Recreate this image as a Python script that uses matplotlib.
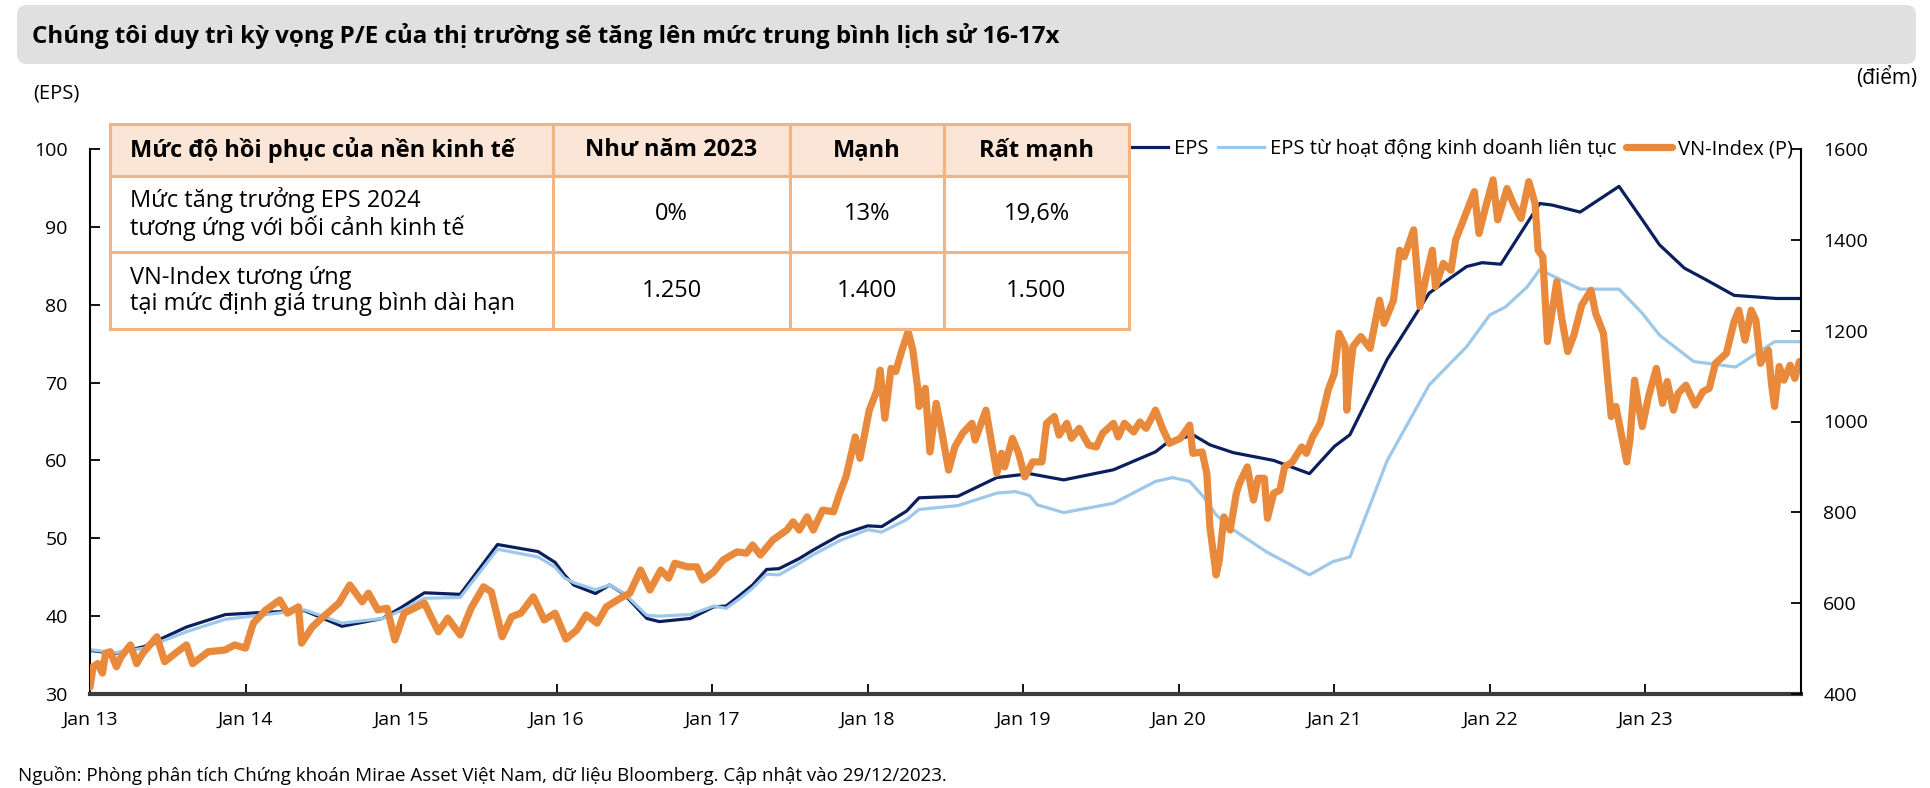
import matplotlib.pyplot as plt
from matplotlib.patches import FancyBboxPatch

plt.rcParams['font.family'] = ['Open Sans', 'Noto Sans', 'DejaVu Sans']

NAVY = '#0B1F5E'
LIGHT_BLUE = '#9DC8EA'
ORANGE = '#E8893C'
TABLE_EDGE = '#F2B482'
HEADER_FILL = '#FBE5D6'

title = 'Chúng tôi duy trì kỳ vọng P/E của thị trường sẽ tăng lên mức trung bình lịch sử 16-17x'
source = ('Nguồn: Phòng phân tích Chứng khoán Mirae Asset Việt Nam, dữ liệu Bloomberg. '
          'Cập nhật vào 29/12/2023.')

years = list(range(2013, 2024))
year_labels = ['Jan %02d' % (y % 100) for y in years]

# (decimal year, value)
eps_pts = [
    (2013.00, 35.6), (2013.16, 35.2), (2013.35, 36.1), (2013.62, 38.6), (2013.87, 40.2),
    (2014.13, 40.5), (2014.38, 40.7), (2014.62, 38.7), (2014.88, 39.7), (2015.00, 41.1),
    (2015.15, 43.0), (2015.38, 42.8), (2015.62, 49.2), (2015.88, 48.3), (2015.99, 46.9),
    (2016.05, 45.3), (2016.11, 44.0), (2016.25, 42.9), (2016.34, 44.0), (2016.43, 42.9),
    (2016.58, 39.7), (2016.66, 39.3), (2016.86, 39.7), (2017.01, 41.2), (2017.09, 41.3),
    (2017.18, 42.7), (2017.26, 44.0), (2017.35, 46.0), (2017.43, 46.1), (2017.56, 47.4),
    (2017.65, 48.5), (2017.82, 50.4), (2018.00, 51.6), (2018.09, 51.5), (2018.25, 53.5),
    (2018.33, 55.2), (2018.58, 55.4), (2018.83, 57.8), (2019.04, 58.3), (2019.26, 57.5),
    (2019.58, 58.8), (2019.85, 61.1), (2019.92, 62.2), (2020.09, 63.3), (2020.20, 62.0),
    (2020.35, 61.0), (2020.61, 60.0), (2020.84, 58.3), (2021.00, 61.8), (2021.10, 63.3),
    (2021.34, 73.0), (2021.61, 81.5), (2021.85, 84.9), (2021.95, 85.4), (2022.07, 85.2),
    (2022.32, 93.0), (2022.40, 92.8), (2022.58, 91.9), (2022.83, 95.2), (2022.98, 90.9),
    (2023.09, 87.7), (2023.25, 84.7), (2023.39, 83.2), (2023.57, 81.2), (2023.71, 81.0),
    (2023.84, 80.8), (2023.99, 80.8),
]

eps_cont_pts = [
    (2013.00, 35.7), (2013.16, 35.3), (2013.35, 35.9), (2013.62, 38.0), (2013.87, 39.6),
    (2014.13, 40.2), (2014.38, 40.8), (2014.62, 39.1), (2014.88, 39.7), (2015.00, 40.7),
    (2015.15, 42.3), (2015.38, 42.4), (2015.62, 48.6), (2015.88, 47.6), (2015.99, 46.3),
    (2016.05, 44.9), (2016.11, 44.3), (2016.25, 43.4), (2016.34, 44.0), (2016.43, 43.0),
    (2016.58, 40.1), (2016.66, 40.0), (2016.86, 40.2), (2017.01, 41.3), (2017.09, 41.0),
    (2017.18, 42.3), (2017.26, 43.6), (2017.35, 45.4), (2017.43, 45.3), (2017.56, 46.8),
    (2017.65, 47.9), (2017.82, 49.7), (2018.00, 51.1), (2018.09, 50.8), (2018.25, 52.4),
    (2018.33, 53.7), (2018.58, 54.2), (2018.83, 55.8), (2018.95, 56.0), (2019.04, 55.5),
    (2019.09, 54.3), (2019.26, 53.3), (2019.58, 54.5), (2019.85, 57.3), (2019.96, 57.8),
    (2020.07, 57.3), (2020.16, 55.3), (2020.24, 53.0), (2020.35, 51.1), (2020.56, 48.3),
    (2020.84, 45.3), (2020.99, 47.0), (2021.10, 47.6), (2021.34, 60.0), (2021.61, 69.7),
    (2021.85, 74.6), (2022.00, 78.7), (2022.10, 79.7), (2022.24, 82.3), (2022.32, 84.5),
    (2022.58, 82.0), (2022.83, 82.0), (2022.98, 78.9), (2023.09, 76.1), (2023.31, 72.7),
    (2023.58, 72.0), (2023.83, 75.25), (2023.99, 75.25),
]

vni_pts = [
    (2013.00, 415), (2013.02, 460), (2013.05, 467), (2013.08, 446), (2013.10, 490),
    (2013.13, 493), (2013.17, 460), (2013.20, 482), (2013.26, 508), (2013.30, 467),
    (2013.34, 490), (2013.43, 526), (2013.48, 471), (2013.55, 490), (2013.62, 508),
    (2013.66, 467), (2013.76, 493), (2013.87, 497), (2013.93, 508), (2014.00, 501),
    (2014.05, 556), (2014.13, 585), (2014.22, 607), (2014.27, 578), (2014.34, 592),
    (2014.36, 512), (2014.43, 548), (2014.49, 567), (2014.60, 600), (2014.67, 640),
    (2014.75, 603), (2014.79, 622), (2014.85, 585), (2014.91, 589), (2014.96, 519),
    (2015.02, 578), (2015.15, 600), (2015.24, 537), (2015.30, 567), (2015.38, 530),
    (2015.45, 589), (2015.53, 636), (2015.58, 625), (2015.65, 526), (2015.71, 570),
    (2015.77, 578), (2015.85, 614), (2015.92, 563), (2015.99, 578), (2016.06, 521),
    (2016.13, 541), (2016.19, 574), (2016.26, 556), (2016.32, 592), (2016.41, 611),
    (2016.47, 622), (2016.54, 673), (2016.60, 629), (2016.67, 673), (2016.72, 655),
    (2016.76, 688), (2016.84, 680), (2016.90, 680), (2016.94, 651), (2017.01, 669),
    (2017.07, 695), (2017.16, 713), (2017.22, 710), (2017.26, 728), (2017.31, 706),
    (2017.39, 739), (2017.48, 761), (2017.52, 779), (2017.56, 761), (2017.61, 790),
    (2017.65, 761), (2017.71, 805), (2017.78, 801), (2017.82, 842), (2017.86, 878),
    (2017.90, 937), (2017.92, 966), (2017.95, 919), (2018.01, 1025), (2018.06, 1069),
    (2018.08, 1113), (2018.11, 1007), (2018.15, 1117), (2018.18, 1110), (2018.22, 1157),
    (2018.26, 1198), (2018.29, 1157), (2018.32, 1077), (2018.33, 1033), (2018.37, 1073),
    (2018.40, 933), (2018.44, 1040), (2018.47, 989), (2018.52, 893), (2018.56, 944),
    (2018.61, 974), (2018.67, 996), (2018.69, 959), (2018.76, 1025), (2018.83, 886),
    (2018.86, 930), (2018.88, 900), (2018.93, 963), (2018.97, 930), (2019.01, 878),
    (2019.06, 911), (2019.12, 911), (2019.15, 996), (2019.20, 1011), (2019.23, 970),
    (2019.28, 996), (2019.31, 963), (2019.36, 985), (2019.42, 948), (2019.47, 944),
    (2019.51, 974), (2019.58, 996), (2019.61, 966), (2019.65, 996), (2019.71, 977),
    (2019.75, 999), (2019.79, 985), (2019.85, 1025), (2019.90, 981), (2019.94, 952),
    (2020.01, 963), (2020.07, 992), (2020.09, 930), (2020.15, 933), (2020.18, 886),
    (2020.20, 768), (2020.24, 662), (2020.26, 695), (2020.29, 790), (2020.33, 761),
    (2020.37, 842), (2020.39, 864), (2020.44, 900), (2020.48, 827), (2020.51, 875),
    (2020.55, 875), (2020.57, 787), (2020.61, 842), (2020.65, 849), (2020.68, 900),
    (2020.73, 911), (2020.79, 944), (2020.82, 930), (2020.86, 966), (2020.91, 996),
    (2020.96, 1069), (2021.00, 1106), (2021.03, 1194), (2021.07, 1165), (2021.08, 1025),
    (2021.10, 1106), (2021.12, 1165), (2021.17, 1187), (2021.23, 1161), (2021.29, 1267),
    (2021.32, 1216), (2021.38, 1267), (2021.42, 1377), (2021.45, 1363), (2021.51, 1422),
    (2021.55, 1253), (2021.59, 1319), (2021.63, 1377), (2021.65, 1297), (2021.70, 1348),
    (2021.75, 1333), (2021.78, 1400), (2021.83, 1444), (2021.90, 1506), (2021.93, 1414),
    (2021.97, 1469), (2022.02, 1532), (2022.05, 1444), (2022.11, 1513), (2022.15, 1480),
    (2022.20, 1447), (2022.25, 1528), (2022.29, 1480), (2022.31, 1377), (2022.34, 1363),
    (2022.37, 1176), (2022.43, 1308), (2022.46, 1231), (2022.50, 1154), (2022.54, 1190),
    (2022.59, 1256), (2022.65, 1289), (2022.68, 1238), (2022.73, 1194), (2022.76, 1084),
    (2022.78, 1011), (2022.81, 1033), (2022.84, 981), (2022.88, 911), (2022.90, 959),
    (2022.93, 1091), (2022.96, 1025), (2022.98, 989), (2023.02, 1055), (2023.07, 1117),
    (2023.11, 1040), (2023.14, 1088), (2023.18, 1025), (2023.21, 1062), (2023.26, 1080),
    (2023.32, 1036), (2023.37, 1066), (2023.41, 1073), (2023.45, 1128), (2023.52, 1150),
    (2023.57, 1220), (2023.60, 1245), (2023.64, 1179), (2023.68, 1245), (2023.71, 1223),
    (2023.74, 1128), (2023.79, 1157), (2023.81, 1084), (2023.83, 1033), (2023.86, 1121),
    (2023.89, 1091), (2023.93, 1124), (2023.96, 1095), (2023.99, 1132),
]

table_header = ['Mức độ hồi phục của nền kinh tế', 'Như năm 2023', 'Mạnh', 'Rất mạnh']
table_body = [
    ['Mức tăng trưởng EPS 2024\ntương ứng với bối cảnh kinh tế', '0%', '13%', '19,6%'],
    ['VN-Index tương ứng\ntại mức định giá trung bình dài hạn', '1.250', '1.400', '1.500'],
]

W, H = 1930, 788
fig = plt.figure(figsize=(W / 100, H / 100), dpi=100)

# grey title band
fig.patches.append(FancyBboxPatch((0.17, 7.24), 18.99, 0.59,
                                  boxstyle='round,pad=0,rounding_size=0.1',
                                  transform=fig.dpi_scale_trans,
                                  facecolor='#E0E0E0', edgecolor='none'))
fig.text(32 / W, 1 - 43 / H, title, fontsize=17.4, fontweight='bold', va='baseline')
fig.text(33 / W, 1 - 98 / H, '(EPS)', fontsize=14.5, va='baseline')
fig.text(1917 / W, 1 - 84 / H, '(điểm)', fontsize=15, va='baseline', ha='right')
fig.text(18 / W, 1 - 781 / H, source, fontsize=13.5, va='baseline')

ax = fig.add_axes([90 / W, 1 - 694 / H, (1801 - 90) / W, (694 - 149) / H])
ax2 = ax.twinx()

t, v = zip(*eps_pts)
l1, = ax.plot(t, v, color=NAVY, lw=2.3)
t, v = zip(*eps_cont_pts)
l2, = ax.plot(t, v, color=LIGHT_BLUE, lw=2.3)
t, v = zip(*vni_pts)
l3, = ax2.plot(t, v, color=ORANGE, lw=5.2, solid_joinstyle='round', solid_capstyle='round')

ax.set_xlim(2013, 2024)
ax.set_ylim(30, 100)
ax2.set_ylim(400, 1600)
ax.set_xticks(years, year_labels)
ax.set_yticks(range(30, 101, 10))
ax2.set_yticks(range(400, 1601, 200))

ax.tick_params(axis='x', direction='in', length=7, width=1.3, labelsize=14, pad=12)
ax.tick_params(axis='y', direction='in', length=7, width=1.3, labelsize=14, pad=16)
ax2.tick_params(axis='y', direction='in', length=7, width=1.3, labelsize=14, pad=16)

for a in (ax, ax2):
    a.spines['top'].set_visible(False)
ax.spines['right'].set_visible(False)
ax2.spines['left'].set_visible(False)
ax2.spines['bottom'].set_visible(False)
ax.spines['left'].set_linewidth(1.5)
ax2.spines['right'].set_linewidth(1.5)
ax.spines['bottom'].set_linewidth(3)
ax.spines['bottom'].set_color('#3C3C3C')

leg = ax2.legend([l1, l2, l3], ['EPS', 'EPS từ hoạt động kinh doanh liên tục', 'VN-Index (P)'],
                 loc='center right', bbox_to_anchor=(1793 / W, 1 - 149 / H),
                 bbox_transform=fig.transFigure, ncol=3, frameon=False, fontsize=14.5,
                 handlelength=2.3, handletextpad=0.3, columnspacing=0.45,
                 borderpad=0, borderaxespad=0)
leg.set_zorder(5)

# scenario table drawn over the plot
aw, ah = 1801 - 90, 694 - 149
tab = ax2.table(cellText=table_body, colLabels=table_header,
                colWidths=[443, 236, 154, 185], cellLoc='center',
                bbox=[20 / aw, (694 - 329) / ah, 1019 / aw, (329 - 124) / ah])
tab.auto_set_font_size(False)
tab.set_fontsize(17)
tab.set_zorder(10)
for (r, c), cell in tab.get_celld().items():
    cell.set_edgecolor(TABLE_EDGE)
    cell.set_linewidth(2.2)
    cell.set_height(52 if r == 0 else 77)
    txt = cell.get_text()
    txt.set_linespacing(1.1)
    if r == 0:
        cell.set_facecolor(HEADER_FILL)
        txt.set_fontweight('bold')
    if c == 0:
        txt.set_horizontalalignment('left')
        txt.set_multialignment('left')
        cell.PAD = 0.045

fig.savefig('out.png', dpi=100)
